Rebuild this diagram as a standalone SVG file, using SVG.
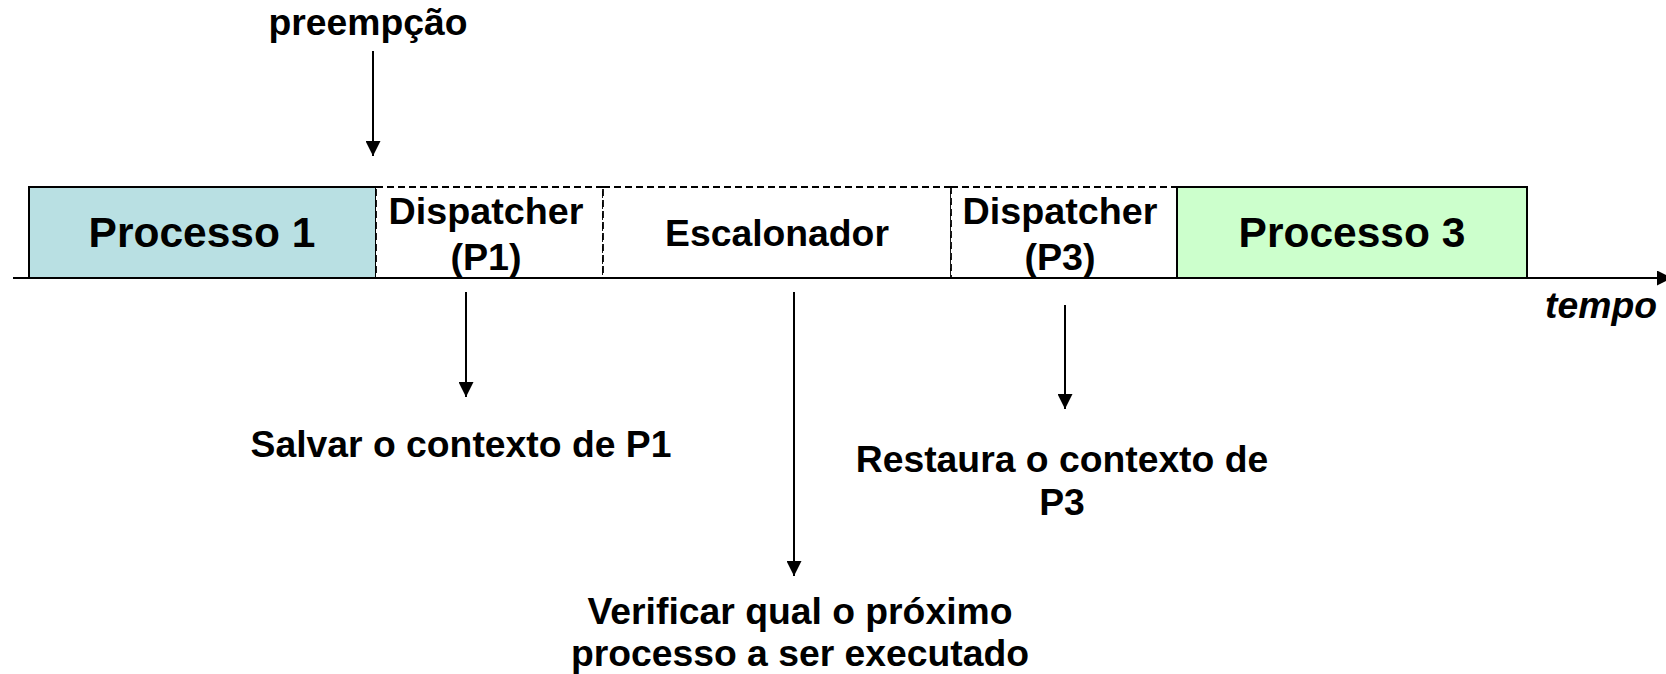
<svg xmlns="http://www.w3.org/2000/svg" width="1666" height="674" viewBox="0 0 1666 674">
<style>
  text { font-family: "Liberation Sans", Arial, sans-serif; font-weight: bold; fill: #000; text-anchor: middle; }
  .big { font-size: 42.5px; }
  .lbl { font-size: 37.3px; }
  .dsp { font-size: 37.7px; }
  .solid { stroke: #000; stroke-width: 2; }
  .dash { fill: #fff; stroke: #000; stroke-width: 1.8; stroke-dasharray: 7 4; }
  .conn { stroke: #000; stroke-width: 2; fill: none; marker-end: url(#arr); }
</style>
<defs>
  <marker id="arr" viewBox="0 0 10 10" refX="10" refY="5" markerWidth="15" markerHeight="15" markerUnits="userSpaceOnUse" orient="auto">
    <path d="M0,0 L10,5 L0,10 Z" fill="#000"/>
  </marker>
</defs>
<rect width="1666" height="674" fill="#fff"/>
<g id="processo1">
  <rect class="solid" x="29" y="187" width="347" height="91" fill="#b9e0e3"/>
  <text class="big" x="202" y="247">Processo 1</text>
</g>
<g id="dispatcher-p1">
  <rect class="dash" x="376" y="187" width="227" height="91"/>
  <text class="dsp" x="486" y="224">Dispatcher</text>
  <text class="dsp" x="486" y="270">(P1)</text>
</g>
<g id="escalonador">
  <rect class="dash" x="603" y="187" width="348" height="91"/>
  <text class="lbl" x="777" y="246">Escalonador</text>
</g>
<g id="dispatcher-p3">
  <rect class="dash" x="951" y="187" width="226" height="91"/>
  <text class="dsp" x="1060" y="224">Dispatcher</text>
  <text class="dsp" x="1060" y="270">(P3)</text>
</g>
<g id="processo3">
  <rect class="solid" x="1177" y="187" width="350" height="91" fill="#ccffcc"/>
  <text class="big" x="1352" y="247">Processo 3</text>
</g>
<g id="labels">
  <text class="lbl" x="368" y="35">preempção</text>
  <text class="lbl" x="1657" y="318" style="text-anchor:end;font-style:italic">tempo</text>
  <text class="lbl" x="461" y="457">Salvar o contexto de P1</text>
  <text class="lbl" x="1062" y="472">Restaura o contexto de</text>
  <text class="lbl" x="1062" y="515">P3</text>
  <text class="lbl" x="800" y="624">Verificar qual o próximo</text>
  <text class="lbl" x="800" y="666">processo a ser executado</text>
</g>
<g id="connectors">
  <line class="conn" x1="13" y1="278" x2="1672" y2="278"/>
  <line class="conn" x1="373" y1="51" x2="373" y2="156"/>
  <line class="conn" x1="466" y1="292" x2="466" y2="397"/>
  <line class="conn" x1="794" y1="292" x2="794" y2="576"/>
  <line class="conn" x1="1065" y1="305" x2="1065" y2="409"/>
</g>
</svg>
